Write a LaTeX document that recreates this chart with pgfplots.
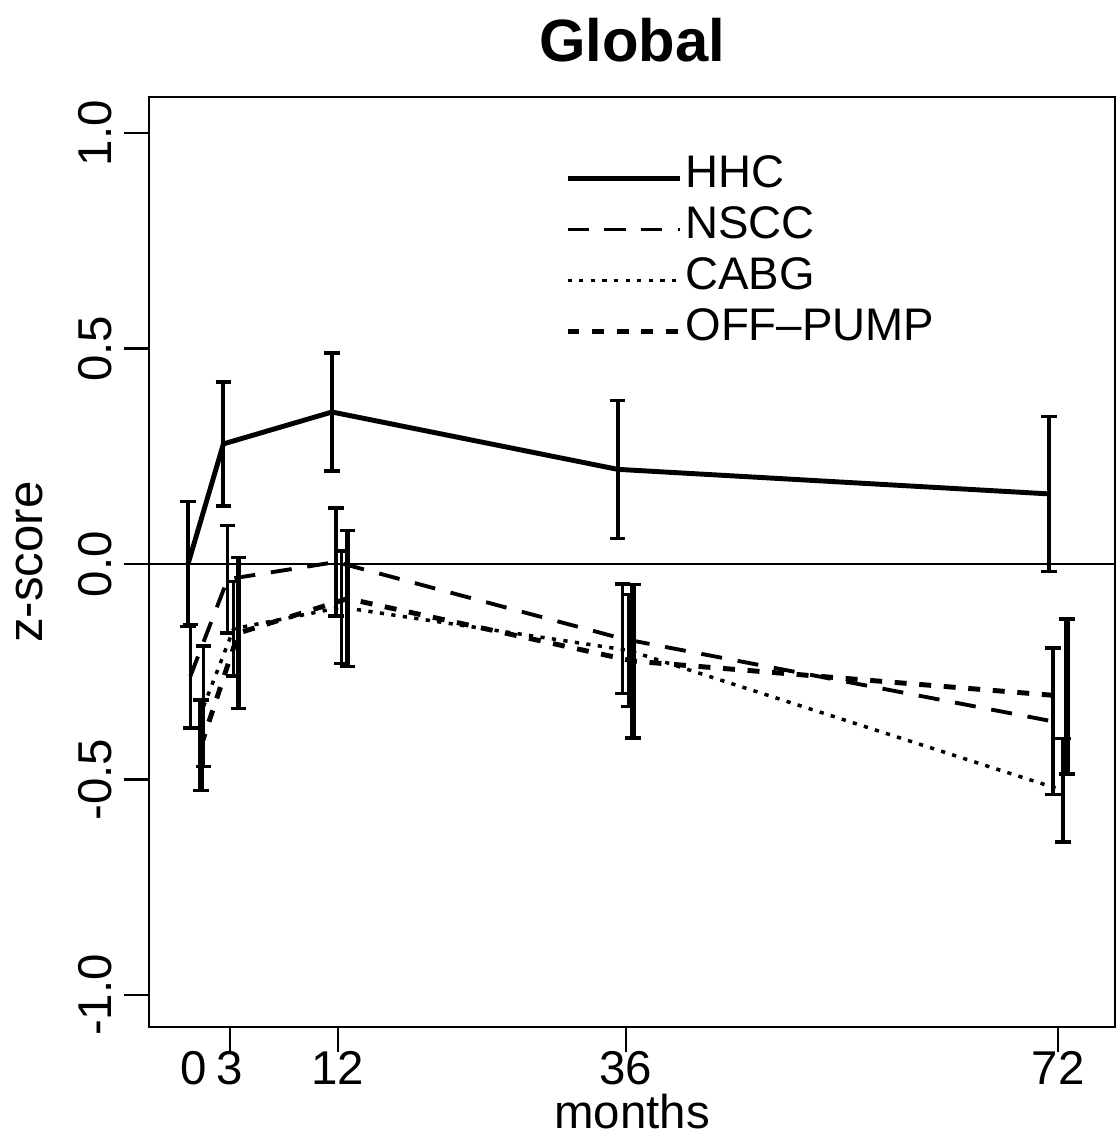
\documentclass[border=0pt]{standalone}
\usepackage{fontspec}
\setmainfont{Liberation Sans}
\usepackage{pgfplots}
\pgfplotsset{compat=1.18}
\usepackage{pgfplotstable}

% months (slightly jittered as in the figure), z-score, half width of error bar
\pgfplotstableread{
x y e
-0.5 0.000 0.145
2.45 0.279 0.144
11.5 0.353 0.137
35.3 0.220 0.160
71.25 0.163 0.180
}\hhc
\pgfplotstableread{
x y e
-0.3 -0.260 0.120
2.8 -0.035 0.125
11.85 0.005 0.125
35.7 -0.173 0.127
71.6 -0.365 0.170
}\nscc
\pgfplotstableread{
x y e
0.8 -0.330 0.140
3.3 -0.150 0.110
12.3 -0.100 0.130
36.2 -0.200 0.130
72.4 -0.525 0.120
}\cabg
\pgfplotstableread{
x y e
0.6 -0.420 0.105
3.7 -0.160 0.175
12.8 -0.080 0.158
36.6 -0.225 0.178
72.75 -0.307 0.180
}\offpump

\begin{document}
\begin{tikzpicture}
\path[use as bounding box] (-1.49,-1.11) rectangle (9.69,10.27);
\begin{axis}[
  scale only axis, width=9.66cm, height=9.30cm,
  xmin=-3.75, xmax=76.75, ymin=-1.074, ymax=1.084,
  axis line style={line width=0.8pt},
  xtick={3,12,36,72},
  extra x ticks={0}, extra x tick style={major tick style={draw=none}},
  ytick={-1,-0.5,0,0.5,1},
  tick align=outside, major tick length=0.25cm,
  tick style={line width=0.7pt, black},
  xtick pos=bottom, ytick pos=left,
  ticklabel style={font=\fontsize{13.5}{13.5}\selectfont},
  xticklabel style={inner sep=0pt, yshift=0.5pt},
  yticklabel style={rotate=90, anchor=south, /pgf/number format/.cd, fixed, fixed zerofill, precision=1},
  /pgf/number format/assume math mode=true,
  title={\fontsize{17}{17}\selectfont\bfseries Global},
  title style={at={(axis description cs:0.5,1.0387)}, anchor=center},
  xlabel={\fontsize{13.5}{13.5}\selectfont months},
  xlabel style={at={(axis description cs:0.5,-0.091)}, anchor=center, inner sep=0pt},
  ylabel={\fontsize{14}{14}\selectfont z-score},
  ylabel style={at={(axis description cs:-0.1232,0.5)}, anchor=center},
  legend style={draw=none, fill=none, at={(0.43,0.9405)}, anchor=north west,
    inner sep=0pt, row sep=0pt,
    nodes={inner sep=1pt, text height=0.31cm, text depth=0.13cm,
      font=\fontsize{13}{13}\selectfont}},
  legend cell align=left,
  legend image code/.code={\draw[#1] (0cm,0cm) -- (1.12cm,0cm);},
  error bars/y dir=both, error bars/y explicit,
  error bars/error bar style={solid, line width=1pt},
  error bars/error mark options={rotate=90, solid, line width=1pt, mark size=2.2pt},
]
\addplot[line width=0.6pt, black, forget plot] coordinates {(-3.75,0) (76.75,0)};

\addplot[black, line width=1.4pt, mark=none,
  error bars/error bar style={solid, line width=1.1pt}]
  table[x=x, y=y, y error=e] {\hhc};
\addlegendentry{HHC}
\addplot[black, line width=1.1pt, mark=none, dash pattern=on 6pt off 4.5pt]
  table[x=x, y=y, y error=e] {\nscc};
\addlegendentry{NSCC}
\addplot[black, line width=1pt, mark=none, dash pattern=on 1.2pt off 2.1pt]
  table[x=x, y=y, y error=e] {\cabg};
\addlegendentry{CABG}
\addplot[black, line width=1.4pt, mark=none, dash pattern=on 3.4pt off 3.6pt,
  error bars/error bar style={solid, line width=1.6pt}]
  table[x=x, y=y, y error=e] {\offpump};
\addlegendentry{OFF--PUMP}
\end{axis}
\end{tikzpicture}
\end{document}
